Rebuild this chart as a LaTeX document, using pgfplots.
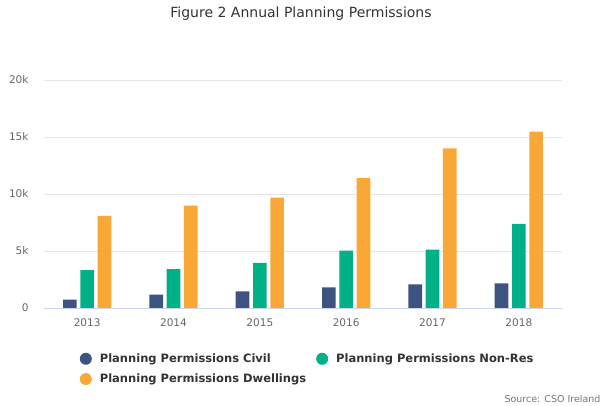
\documentclass[border=0pt]{standalone}
\usepackage{fontspec}
\setmainfont{DejaVu Sans}
\usepackage{pgfplots}
\pgfplotsset{compat=1.18}
\definecolor{civil}{RGB}{61,83,128}
\definecolor{nonres}{RGB}{0,176,135}
\definecolor{dwell}{RGB}{249,168,55}
\definecolor{gridc}{RGB}{230,230,230}
\definecolor{labc}{RGB}{102,102,102}
\definecolor{basec}{RGB}{204,214,235}

\begin{document}
\begin{tikzpicture}[x=1pt,y=1pt]
\path[use as bounding box] (0,0) rectangle (614,406);
\node[font=\fontsize{14}{16}\selectfont, text=black!80] at (301,392) {Figure 2 Annual Planning Permissions};
\begin{axis}[
  anchor=south west, at={(44pt,98pt)},
  width=518pt, height=228pt, scale only axis,
  xmin=-0.5, xmax=5.5, ymin=0, ymax=20000,
  xtick={0,1,2,3,4,5},
  xticklabels={2013,2014,2015,2016,2017,2018},
  ytick={0,5000,10000,15000,20000},
  yticklabels={0,5k,10k,15k,20k},
  scaled y ticks=false,
  ymajorgrids, grid style={gridc, line width=0.8pt},
  axis lines*=left,
  y axis line style={draw=none},
  x axis line style={-, draw=basec, line width=0.8pt},
  tick style={draw=none},
  xticklabel style={font=\fontsize{10.5}{12}\selectfont, text=labc, yshift=-3pt},
  yticklabel style={font=\fontsize{10.5}{12}\selectfont, text=labc, xshift=-12pt},
  ybar, bar width=0.158,
  legend columns=2,
  legend cell align=left,
  legend style={at={(0.063,-0.182)}, anchor=north west, draw=none, fill=none,
    font=\bfseries\fontsize{11.5}{13}\selectfont, text=black!80,
    row sep=6pt,
    /tikz/every odd column/.append style={column sep=6pt},
    /tikz/every even column/.append style={column sep=8pt}},
]
\addplot[fill=civil, draw=none, bar shift=-0.2,
  legend image code/.code={\fill[civil] (3pt,0pt) circle (6pt);}]
  coordinates {(0,730) (1,1170) (2,1460) (3,1810) (4,2070) (5,2160)};
\addlegendentry{Planning Permissions Civil}
\addplot[fill=nonres, draw=none, bar shift=0,
  legend image code/.code={\fill[nonres] (3pt,0pt) circle (6pt);}]
  coordinates {(0,3320) (1,3410) (2,3960) (3,5040) (4,5120) (5,7370)};
\addlegendentry{Planning Permissions Non-Res}
\addplot[fill=dwell, draw=none, bar shift=0.2,
  legend image code/.code={\fill[dwell] (3pt,0pt) circle (6pt);}]
  coordinates {(0,8070) (1,8970) (2,9690) (3,11410) (4,14000) (5,15460)};
\addlegendentry{Planning Permissions Dwellings}
\end{axis}
\node[anchor=east, font=\fontsize{9.5}{11}\selectfont, text=labc!90] at (604,7) {Source: CSO Ireland};
\end{tikzpicture}
\end{document}
